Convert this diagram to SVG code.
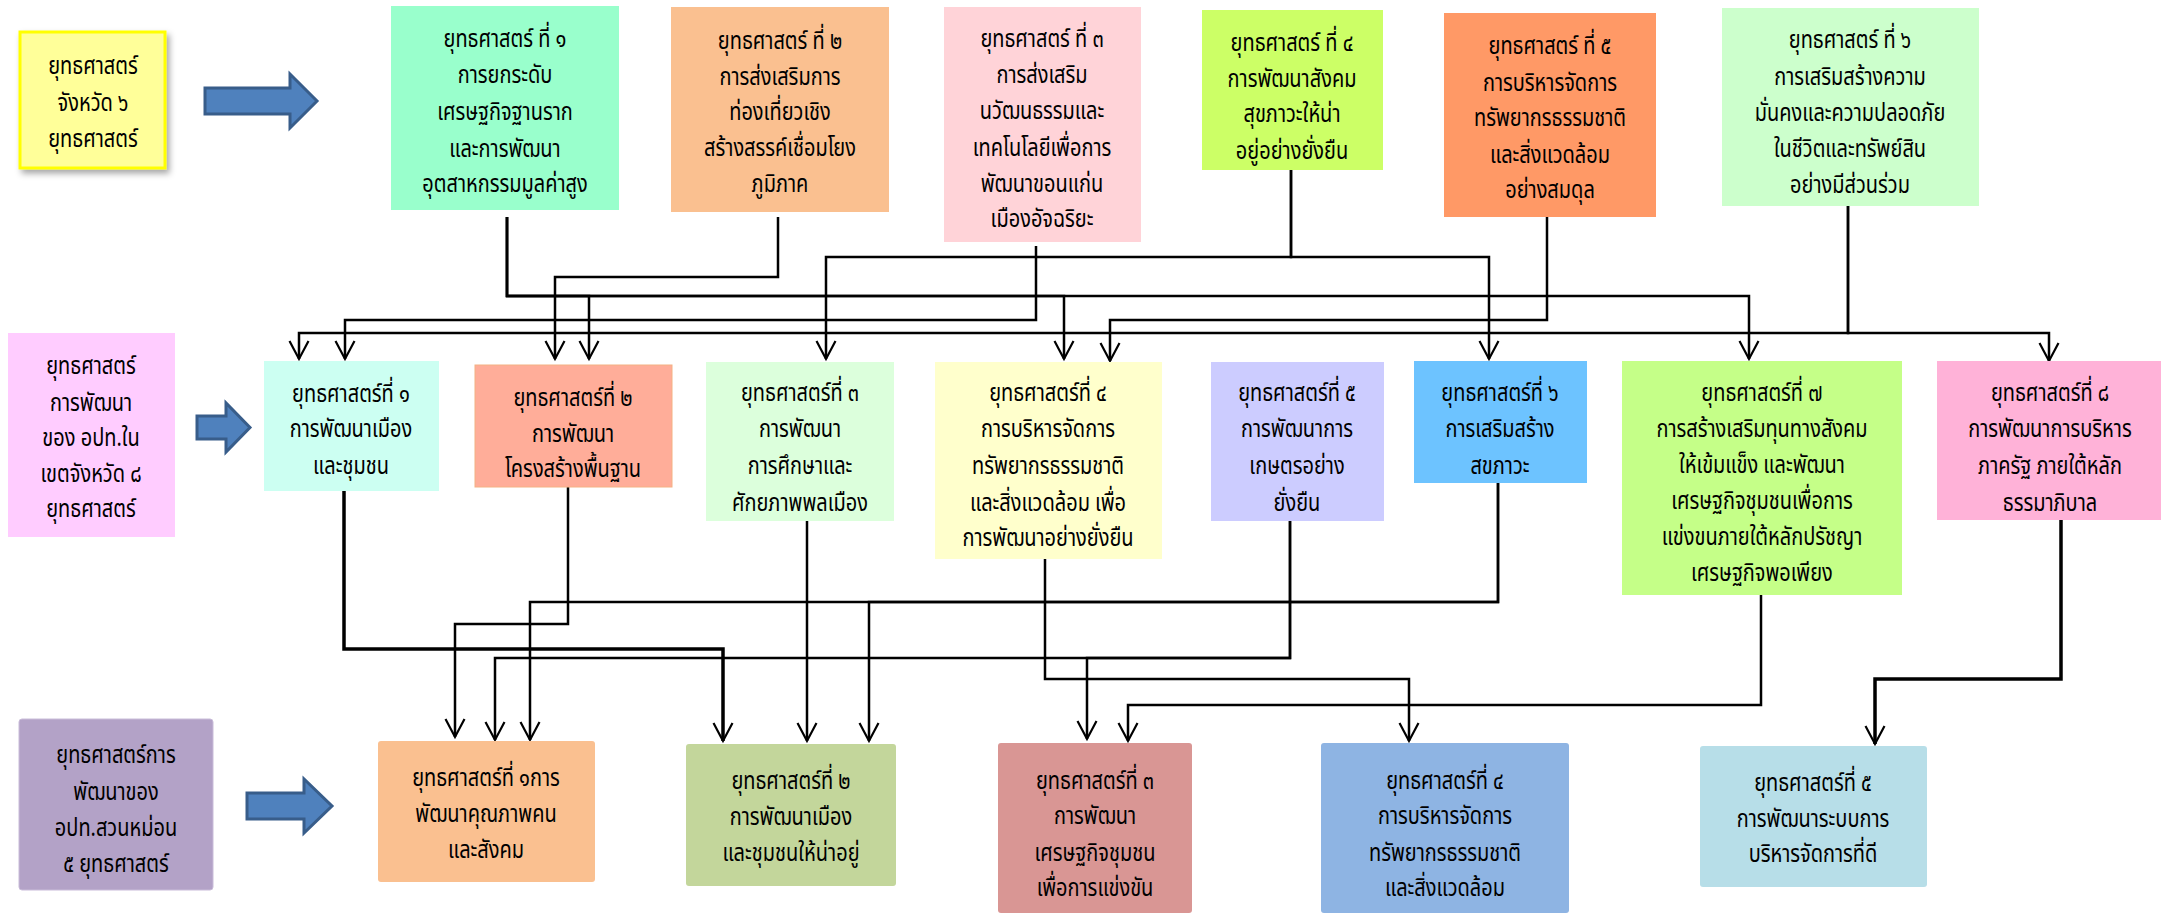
<svg xmlns="http://www.w3.org/2000/svg" width="2161" height="913" viewBox="0 0 2161 913">
<style>
.t{font-family:"Noto Sans Thai","Noto Sans Thai UI","Noto Sans","DejaVu Sans",sans-serif;font-size:25px;text-anchor:middle;fill:#000}
.c{stroke:#000;stroke-width:2.5;fill:none}
.ck{stroke:#000;stroke-width:3.5;fill:none}
.bar{fill:#4F81BD;stroke:#385D8A;stroke-width:3}
</style>
<defs>
<marker id="ah" markerUnits="userSpaceOnUse" viewBox="-20 -11 22 22" markerWidth="22" markerHeight="22" refX="0" refY="0" orient="auto" overflow="visible">
<path d="M-18,-9.5 L0,0 L-18,9.5" fill="none" stroke="#000" stroke-width="2.2"/>
</marker>
<filter id="sh" x="-10%" y="-10%" width="130%" height="130%">
<feDropShadow dx="3" dy="4" stdDeviation="3" flood-color="#000" flood-opacity="0.35"/>
</filter>
</defs>

<g id="connectors">
<path class="c" marker-end="url(#ah)" d="M507,217 V296 H589 V359"/>
<path class="c" marker-end="url(#ah)" d="M507,217 V296 H1064 V359"/>
<path class="c" marker-end="url(#ah)" d="M507,217 V296 H1749 V359"/>
<path class="c" marker-end="url(#ah)" d="M778,217 V277 H555 V359"/>
<path class="c" marker-end="url(#ah)" d="M1036,246 V320 H345 V359"/>
<path class="c" marker-end="url(#ah)" d="M1291,170 V257 H826 V359"/>
<path class="c" marker-end="url(#ah)" d="M1291,170 V257 H1489 V359"/>
<path class="c" marker-end="url(#ah)" d="M1547,217 V320 H1110 V361"/>
<path class="c" marker-end="url(#ah)" d="M1848,206 V333 H299 V359"/>
<path class="c" marker-end="url(#ah)" d="M1848,206 V333 H2049 V361"/>
<path class="ck" marker-end="url(#ah)" d="M344,491 V649 H723 V741"/>
<path class="c" marker-end="url(#ah)" d="M568,487 V624 H455 V737"/>
<path class="c" marker-end="url(#ah)" d="M807,521 V741"/>
<path class="c" marker-end="url(#ah)" d="M1045,559 V679 H1409 V741"/>
<path class="c" marker-end="url(#ah)" d="M1290,519 V658 H495 V740"/>
<path class="c" marker-end="url(#ah)" d="M1290,519 V658 H1087 V739"/>
<path class="c" marker-end="url(#ah)" d="M1498,483 V602 H530 V740"/>
<path class="c" marker-end="url(#ah)" d="M1498,483 V602 H869 V741"/>
<path class="c" marker-end="url(#ah)" d="M1761,595 V705 H1128 V741"/>
<path class="ck" marker-end="url(#ah)" d="M2061,520 V679 H1875 V744"/>
</g>

<g id="arrow-top"><path class="bar" d="M205,88 H290 V74 L317,101 L290,128 V114 H205 Z"/></g>
<g id="arrow-mid"><path class="bar" d="M197,416 H226 V403 L250,427.5 L226,452 V439 H197 Z"/></g>
<g id="arrow-bot"><path class="bar" d="M247,793 H304 V779 L332,806 L304,833 V819 H247 Z"/></g>

<g id="head-province">
<rect x="20" y="32" width="145" height="136" fill="#FFFF99" stroke="#FFFF00" stroke-width="3" filter="url(#sh)"/>
<g transform="matrix(0.8,0,0,1,18.6,0)">
<text class="t" x="93" y="74">ยุทธศาสตร์</text>
<text class="t" x="93" y="111">จังหวัด ๖</text>
<text class="t" x="93" y="147">ยุทธศาสตร์</text>
</g>
</g>

<g id="p1">
<rect x="391" y="6" width="228" height="204" fill="#99FFCC"/>
<g transform="matrix(0.8,0,0,1,101,0)">
<text class="t" x="505" y="47">ยุทธศาสตร์ ที่ ๑</text>
<text class="t" x="505" y="83">การยกระดับ</text>
<text class="t" x="505" y="120">เศรษฐกิจฐานราก</text>
<text class="t" x="505" y="157">และการพัฒนา</text>
<text class="t" x="505" y="192">อุตสาหกรรมมูลค่าสูง</text>
</g>
</g>
<g id="p2">
<rect x="671" y="7" width="218" height="205" fill="#FAC090"/>
<g transform="matrix(0.8,0,0,1,156,0)">
<text class="t" x="780" y="49">ยุทธศาสตร์ ที่ ๒</text>
<text class="t" x="780" y="85">การส่งเสริมการ</text>
<text class="t" x="780" y="120">ท่องเที่ยวเชิง</text>
<text class="t" x="780" y="156">สร้างสรรค์เชื่อมโยง</text>
<text class="t" x="780" y="192">ภูมิภาค</text>
</g>
</g>
<g id="p3">
<rect x="944" y="7" width="197" height="235" fill="#FFD3D8"/>
<g transform="matrix(0.8,0,0,1,208.4,0)">
<text class="t" x="1042" y="47">ยุทธศาสตร์ ที่ ๓</text>
<text class="t" x="1042" y="83">การส่งเสริม</text>
<text class="t" x="1042" y="119">นวัฒนธรรมและ</text>
<text class="t" x="1042" y="156">เทคโนโลยีเพื่อการ</text>
<text class="t" x="1042" y="192">พัฒนาขอนแก่น</text>
<text class="t" x="1042" y="227">เมืองอัจฉริยะ</text>
</g>
</g>
<g id="p4">
<rect x="1202" y="10" width="181" height="160" fill="#CCFF66"/>
<g transform="matrix(0.8,0,0,1,258.4,0)">
<text class="t" x="1292" y="51">ยุทธศาสตร์ ที่ ๔</text>
<text class="t" x="1292" y="87">การพัฒนาสังคม</text>
<text class="t" x="1292" y="122">สุขภาวะให้น่า</text>
<text class="t" x="1292" y="159">อยู่อย่างยั่งยืน</text>
</g>
</g>
<g id="p5">
<rect x="1444" y="13" width="212" height="204" fill="#FF9966"/>
<g transform="matrix(0.8,0,0,1,310,0)">
<text class="t" x="1550" y="54">ยุทธศาสตร์ ที่ ๕</text>
<text class="t" x="1550" y="91">การบริหารจัดการ</text>
<text class="t" x="1550" y="126">ทรัพยากรธรรมชาติ</text>
<text class="t" x="1550" y="163">และสิ่งแวดล้อม</text>
<text class="t" x="1550" y="198">อย่างสมดุล</text>
</g>
</g>
<g id="p6">
<rect x="1722" y="8" width="257" height="198" fill="#CCFFCC"/>
<g transform="matrix(0.8,0,0,1,370,0)">
<text class="t" x="1850" y="48">ยุทธศาสตร์ ที่ ๖</text>
<text class="t" x="1850" y="85">การเสริมสร้างความ</text>
<text class="t" x="1850" y="121">มั่นคงและความปลอดภัย</text>
<text class="t" x="1850" y="157">ในชีวิตและทรัพย์สิน</text>
<text class="t" x="1850" y="193">อย่างมีส่วนร่วม</text>
</g>
</g>

<g id="head-pao">
<rect x="8" y="333" width="167" height="204" fill="#FFCCFF"/>
<g transform="matrix(0.8,0,0,1,18.2,0)">
<text class="t" x="91" y="374">ยุทธศาสตร์</text>
<text class="t" x="91" y="411">การพัฒนา</text>
<text class="t" x="91" y="446">ของ อปท.ใน</text>
<text class="t" x="91" y="482">เขตจังหวัด ๘</text>
<text class="t" x="91" y="517">ยุทธศาสตร์</text>
</g>
</g>

<g id="m1">
<rect x="264" y="361" width="175" height="130" fill="#CCFFF2"/>
<g transform="matrix(0.8,0,0,1,70.2,0)">
<text class="t" x="351" y="402">ยุทธศาสตร์ที่ ๑</text>
<text class="t" x="351" y="437">การพัฒนาเมือง</text>
<text class="t" x="351" y="474">และชุมชน</text>
</g>
</g>
<g id="m2">
<rect x="475" y="365" width="197" height="122" fill="#FFAD99" stroke="#F4B183" stroke-width="1"/>
<g transform="matrix(0.8,0,0,1,114.6,0)">
<text class="t" x="573" y="406">ยุทธศาสตร์ที่ ๒</text>
<text class="t" x="573" y="442">การพัฒนา</text>
<text class="t" x="573" y="477">โครงสร้างพื้นฐาน</text>
</g>
</g>
<g id="m3">
<rect x="706" y="362" width="188" height="159" fill="#DCFFDC"/>
<g transform="matrix(0.8,0,0,1,160,0)">
<text class="t" x="800" y="401">ยุทธศาสตร์ที่ ๓</text>
<text class="t" x="800" y="437">การพัฒนา</text>
<text class="t" x="800" y="474">การศึกษาและ</text>
<text class="t" x="800" y="511">ศักยภาพพลเมือง</text>
</g>
</g>
<g id="m4">
<rect x="935" y="362" width="227" height="197" fill="#FFFFCC"/>
<g transform="matrix(0.8,0,0,1,209.6,0)">
<text class="t" x="1048" y="401">ยุทธศาสตร์ที่ ๔</text>
<text class="t" x="1048" y="437">การบริหารจัดการ</text>
<text class="t" x="1048" y="474">ทรัพยากรธรรมชาติ</text>
<text class="t" x="1048" y="511">และสิ่งแวดล้อม เพื่อ</text>
<text class="t" x="1048" y="546">การพัฒนาอย่างยั่งยืน</text>
</g>
</g>
<g id="m5">
<rect x="1211" y="362" width="173" height="159" fill="#CCCCFF"/>
<g transform="matrix(0.8,0,0,1,259.4,0)">
<text class="t" x="1297" y="401">ยุทธศาสตร์ที่ ๕</text>
<text class="t" x="1297" y="437">การพัฒนาการ</text>
<text class="t" x="1297" y="474">เกษตรอย่าง</text>
<text class="t" x="1297" y="511">ยั่งยืน</text>
</g>
</g>
<g id="m6">
<rect x="1414" y="361" width="173" height="122" fill="#6DC3FF"/>
<g transform="matrix(0.8,0,0,1,300,0)">
<text class="t" x="1500" y="401">ยุทธศาสตร์ที่ ๖</text>
<text class="t" x="1500" y="437">การเสริมสร้าง</text>
<text class="t" x="1500" y="474">สขภาวะ</text>
</g>
</g>
<g id="m7">
<rect x="1622" y="361" width="280" height="234" fill="#C5FF88"/>
<g transform="matrix(0.8,0,0,1,352.4,0)">
<text class="t" x="1762" y="401">ยุทธศาสตร์ที่ ๗</text>
<text class="t" x="1762" y="437">การสร้างเสริมทุนทางสังคม</text>
<text class="t" x="1762" y="473">ให้เข้มแข็ง และพัฒนา</text>
<text class="t" x="1762" y="509">เศรษฐกิจชุมชนเพื่อการ</text>
<text class="t" x="1762" y="545">แข่งขนภายใต้หลักปรัชญา</text>
<text class="t" x="1762" y="581">เศรษฐกิจพอเพียง</text>
</g>
</g>
<g id="m8">
<rect x="1937" y="361" width="224" height="159" fill="#FFB2D8"/>
<g transform="matrix(0.8,0,0,1,410,0)">
<text class="t" x="2050" y="401">ยุทธศาสตร์ที่ ๘</text>
<text class="t" x="2050" y="437">การพัฒนาการบริหาร</text>
<text class="t" x="2050" y="474">ภาครัฐ ภายใต้หลัก</text>
<text class="t" x="2050" y="511">ธรรมาภิบาล</text>
</g>
</g>

<g id="head-local">
<rect x="19" y="719" width="194" height="171" rx="3" fill="#B3A2C7" stroke="#C9BCD9" stroke-width="1"/>
<g transform="matrix(0.8,0,0,1,23.2,0)">
<text class="t" x="116" y="763">ยุทธศาสตร์การ</text>
<text class="t" x="116" y="800">พัฒนาของ</text>
<text class="t" x="116" y="836">อปท.สวนหม่อน</text>
<text class="t" x="116" y="872">๕ ยุทธศาสตร์</text>
</g>
</g>

<g id="b1">
<rect x="378" y="741" width="217" height="141" rx="3" fill="#FAC090"/>
<g transform="matrix(0.8,0,0,1,97.2,0)">
<text class="t" x="486" y="786">ยุทธศาสตร์ที่ ๑การ</text>
<text class="t" x="486" y="822">พัฒนาคุณภาพคน</text>
<text class="t" x="486" y="858">และสังคม</text>
</g>
</g>
<g id="b2">
<rect x="686" y="744" width="210" height="142" rx="3" fill="#C3D69B"/>
<g transform="matrix(0.8,0,0,1,158.2,0)">
<text class="t" x="791" y="789">ยุทธศาสตร์ที่ ๒</text>
<text class="t" x="791" y="825">การพัฒนาเมือง</text>
<text class="t" x="791" y="861">และชุมชนให้น่าอยู่</text>
</g>
</g>
<g id="b3">
<rect x="998" y="743" width="194" height="170" rx="3" fill="#D99694"/>
<g transform="matrix(0.8,0,0,1,219,0)">
<text class="t" x="1095" y="789">ยุทธศาสตร์ที่ ๓</text>
<text class="t" x="1095" y="824">การพัฒนา</text>
<text class="t" x="1095" y="861">เศรษฐกิจชุมชน</text>
<text class="t" x="1095" y="896">เพื่อการแข่งขัน</text>
</g>
</g>
<g id="b4">
<rect x="1321" y="743" width="248" height="170" rx="3" fill="#8EB4E3"/>
<g transform="matrix(0.8,0,0,1,289,0)">
<text class="t" x="1445" y="789">ยุทธศาสตร์ที่ ๔</text>
<text class="t" x="1445" y="824">การบริหารจัดการ</text>
<text class="t" x="1445" y="861">ทรัพยากรธรรมชาติ</text>
<text class="t" x="1445" y="896">และสิ่งแวดล้อม</text>
</g>
</g>
<g id="b5">
<rect x="1700" y="746" width="227" height="141" rx="3" fill="#B7DEE8"/>
<g transform="matrix(0.8,0,0,1,362.6,0)">
<text class="t" x="1813" y="791">ยุทธศาสตร์ที่ ๕</text>
<text class="t" x="1813" y="827">การพัฒนาระบบการ</text>
<text class="t" x="1813" y="862">บริหารจัดการที่ดี</text>
</g>
</g>
</svg>
